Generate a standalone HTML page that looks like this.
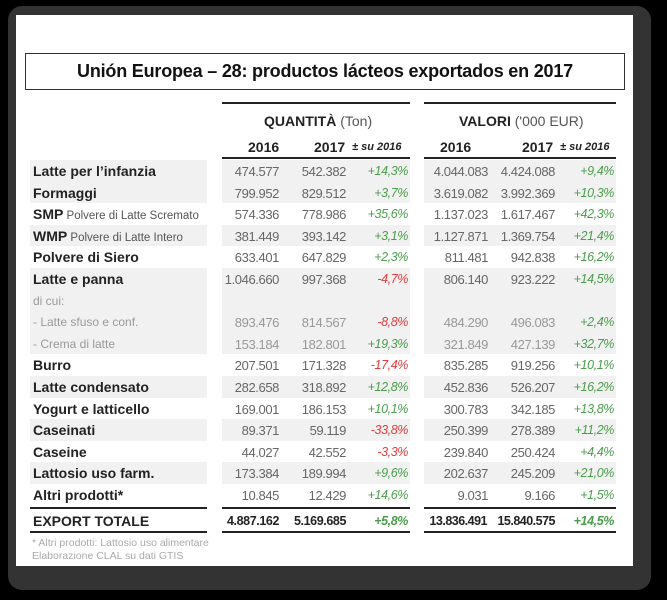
<!DOCTYPE html>
<html><head><meta charset="utf-8">
<style>
body{margin:0;width:667px;height:600px;background:#000;position:relative;overflow:hidden;font-family:"Liberation Sans",sans-serif;}
#frame{position:absolute;left:8px;top:6px;width:643px;height:584px;background:#333;border-radius:14px;}
#paper{position:absolute;left:16px;top:15px;width:617px;height:551px;background:#fff;}
#title{position:absolute;left:25px;top:53px;width:598px;height:35px;border:1.5px solid #333;font-size:18px;font-weight:bold;text-align:center;line-height:35px;color:#111;letter-spacing:-0.2px;}
.c{position:absolute;white-space:nowrap;}
.hl{position:absolute;height:2px;background:#222;}
.bg{position:absolute;background:#f1f1f1;height:21.6px;}
.lab{font-weight:bold;font-size:14px;color:#222;}
.num{font-size:13px;color:#666;letter-spacing:-0.4px;text-align:right;}
.pct{font-size:12.5px;font-style:italic;text-align:right;letter-spacing:-0.4px;}
.pos{color:#4a9e4a}.neg{color:#e03c3c}
</style></head>
<body>
<div id="frame"></div>
<div id="paper"></div>
<div id="title">Unión Europea – 28: productos lácteos exportados en 2017</div>
<div class="hl" style="left:222px;top:102px;width:188px"></div>
<div class="hl" style="left:424px;top:102px;width:192px"></div>
<div class="c" style="left:264px;top:113px;font-size:14px;color:#222"><b>QUANTITÀ</b> <span style="color:#555">(Ton)</span></div>
<div class="c" style="left:459px;top:113px;font-size:14px;color:#222"><b>VALORI</b> <span style="color:#555">('000 EUR)</span></div>
<div class="c lab" style="left:248px;top:139px">2016</div>
<div class="c lab" style="left:314px;top:139px">2017</div>
<div class="c" style="left:352px;top:141px;font-size:11px;font-style:italic;font-weight:bold;color:#222">± su 2016</div>
<div class="c lab" style="left:440px;top:139px">2016</div>
<div class="c lab" style="left:522px;top:139px">2017</div>
<div class="c" style="left:560px;top:141px;font-size:11px;font-style:italic;font-weight:bold;color:#222">± su 2016</div>
<div class="hl" style="left:222px;top:157px;width:188px"></div>
<div class="hl" style="left:424px;top:157px;width:192px"></div>
<div id="rows"></div>
<div class="hl" style="left:30px;top:507px;width:177px"></div>
<div class="hl" style="left:222px;top:507px;width:188px"></div>
<div class="hl" style="left:424px;top:507px;width:192px"></div>
<div class="c lab" style="left:33px;top:513px">EXPORT TOTALE</div>
<div class="c lab" style="left:222px;top:514px;width:57px;text-align:right;font-size:12.5px;letter-spacing:-0.4px">4.887.162</div>
<div class="c lab" style="left:280px;top:514px;width:66px;text-align:right;font-size:12.5px;letter-spacing:-0.4px">5.169.685</div>
<div class="c pct pos" style="left:350px;top:514px;width:58px;font-weight:bold">+5,8%</div>
<div class="c lab" style="left:424px;top:514px;width:63px;text-align:right;font-size:12.5px;letter-spacing:-0.5px">13.836.491</div>
<div class="c lab" style="left:490px;top:514px;width:65px;text-align:right;font-size:12.5px;letter-spacing:-0.5px">15.840.575</div>
<div class="c pct pos" style="left:556px;top:514px;width:58px;font-weight:bold">+14,5%</div>
<div class="hl" style="left:30px;top:531px;width:177px"></div>
<div class="hl" style="left:222px;top:531px;width:188px"></div>
<div class="hl" style="left:424px;top:531px;width:192px"></div>
<div class="c" style="left:32px;top:537px;font-size:10.5px;color:#aaa">* Altri prodotti: Lattosio uso alimentare</div>
<div class="c" style="left:32px;top:550px;font-size:10.5px;color:#aaa">Elaborazione CLAL su dati GTIS</div>
<script>
const labels=["Latte per l’infanzia","Formaggi","SMP","WMP","Polvere di Siero","Latte e panna","di cui:","- Latte sfuso e conf.","- Crema di latte","Burro","Latte condensato","Yogurt e latticello","Caseinati","Caseine","Lattosio uso farm.","Altri prodotti*"];
const subLabels=["","","Polvere di Latte Scremato","Polvere di Latte Intero","","","","","","","","","","","",""];
const q2016=["474.577","799.952","574.336","381.449","633.401","1.046.660","","893.476","153.184","207.501","282.658","169.001","89.371","44.027","173.384","10.845"];
const q2017=["542.382","829.512","778.986","393.142","647.829","997.368","","814.567","182.801","171.328","318.892","186.153","59.119","42.552","189.994","12.429"];
const qChg=["+14,3%","+3,7%","+35,6%","+3,1%","+2,3%","-4,7%","","-8,8%","+19,3%","-17,4%","+12,8%","+10,1%","-33,8%","-3,3%","+9,6%","+14,6%"];
const v2016=["4.044.083","3.619.082","1.137.023","1.127.871","811.481","806.140","","484.290","321.849","835.285","452.836","300.783","250.399","239.840","202.637","9.031"];
const v2017=["4.424.088","3.992.369","1.617.467","1.369.754","942.838","923.222","","496.083","427.139","919.256","526.207","342.185","278.389","250.424","245.209","9.166"];
const vChg=["+9,4%","+10,3%","+42,3%","+21,4%","+16,2%","+14,5%","","+2,4%","+32,7%","+10,1%","+16,2%","+13,8%","+11,2%","+4,4%","+21,0%","+1,5%"];
const shaded=[1,1,0,1,0,1,1,1,1,0,1,0,1,0,1,0];
const root=document.getElementById('rows');
const RH=21.6,TOP=160;
function add(cls,style,text,name){const d=document.createElement('div');d.className=cls;d.style.cssText=style;d.textContent=text;


root.appendChild(d);return d;}
labels.forEach((l,i)=>{
 const y=TOP+i*RH;
 if(shaded[i]){[[30,177],[222,188],[424,192]].forEach(([x,w])=>add('bg',`left:${x}px;top:${y}px;width:${w}px`,'','row-shade'));}
 const sub=(i>=6&&i<=8);
 const lab=add('c '+(sub?'':'lab'),`left:33px;top:${y+3}px;${sub?'font-size:12px;color:#999;top:'+(y+4)+'px':''}`,l,'row-label');
 if(subLabels[i]){const s=document.createElement('span');s.style.cssText='font-weight:normal;font-size:11.5px;color:#555';s.textContent=' '+subLabels[i];lab.appendChild(s);}
 const faded=sub?'color:#999;':'';
 add('c num',`${faded}left:222px;top:${y+4}px;width:57px`,q2016[i],'q2016-cell');
 add('c num',`${faded}left:280px;top:${y+4}px;width:66px`,q2017[i],'q2017-cell');
 add('c pct '+(qChg[i][0]=='-'?'neg':'pos'),`left:350px;top:${y+4}px;width:58px`,qChg[i],'q-change-cell');
 add('c num',`${faded}left:424px;top:${y+4}px;width:64px`,v2016[i],'v2016-cell');
 add('c num',`${faded}left:490px;top:${y+4}px;width:65px`,v2017[i],'v2017-cell');
 add('c pct '+(vChg[i][0]=='-'?'neg':'pos'),`left:556px;top:${y+4}px;width:58px`,vChg[i],'v-change-cell');
});
</script>
</body></html>
